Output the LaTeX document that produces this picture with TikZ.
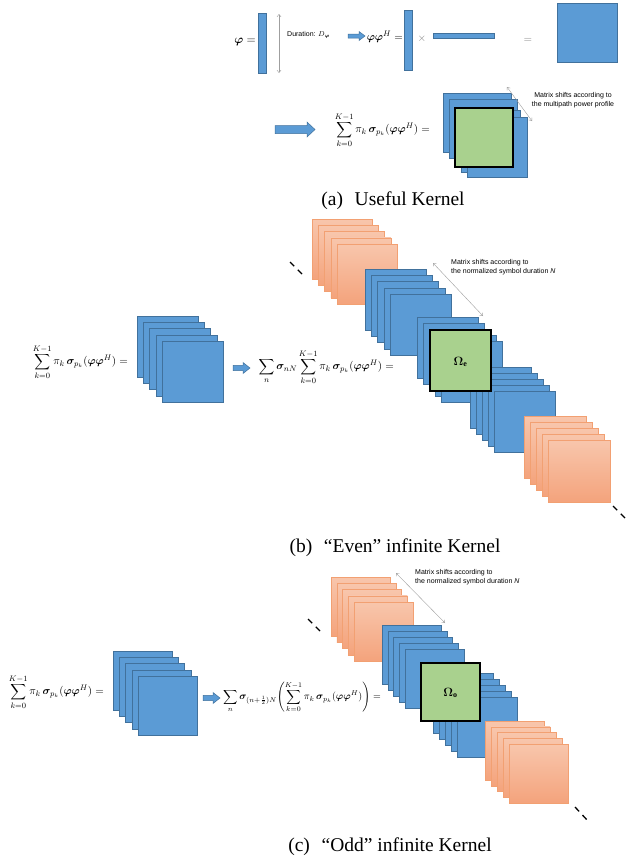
\documentclass[tikz,border=0pt]{standalone}
\usepackage{amsmath}
\usepackage{bm}
\usepackage{fontspec}
\setmainfont{Liberation Serif}
\newfontfamily\karial{Liberation Sans}
\usetikzlibrary{arrows.meta}
\definecolor{kblue}{HTML}{5B9BD5}
\definecolor{kblueb}{HTML}{41719C}
\definecolor{kor1}{HTML}{F8C6AC}
\definecolor{kor2}{HTML}{F4A37C}
\definecolor{korb}{HTML}{F2A072}
\definecolor{kgreen}{HTML}{A9D18E}
\newcommand\kfm{\fontsize{11}{13}\selectfont}
\newcommand\kfmc{\fontsize{10.1}{12}\selectfont}
\newcommand\kcap{\fontsize{19.5}{22}\selectfont}
\newcommand\ksmall{\karial\fontsize{7}{9.5}\selectfont}
\newcommand\kstack[7]{\foreach \i in {0,...,4}{\path[#1] ({#2+\i*#4},{#3+\i*#5}) rectangle ++(#6,#7);}}
\newcommand\kfat[6]{\path[bsq] (#1,{#3-#4}) -- ({#2-#6},{#3-#4}) -- ({#2-#6},{#3-#5}) -- (#2,#3) -- ({#2-#6},{#3+#5}) -- ({#2-#6},{#3+#4}) -- (#1,{#3+#4}) -- cycle;}
\begin{document}
\begin{tikzpicture}[x=1pt,y=-1pt,
  bsq/.style={fill=kblue,draw=kblueb,line width=0.5pt},
  osq/.style={top color=kor1,bottom color=kor2,draw=korb,line width=0.5pt},
  gsq/.style={fill=kgreen,draw=black,line width=1.8pt},
  darr/.style={draw=gray!75,line width=0.4pt,{Straight Barb[length=2.5pt,width=4pt]}-{Straight Barb[length=2.5pt,width=4pt]}},
  kdots/.style={draw=black,line width=1.3pt,dash pattern=on 6pt off 5pt},
  fm/.style={font=\kfm,inner sep=0pt},
  knote/.style={font=\ksmall,inner sep=0pt,align=left},
  kcapt/.style={font=\kcap,inner sep=0pt}]
\fill[white] (0,0) rectangle (625,865);
\useasboundingbox (0,0) rectangle (625,865);

% ---------------- (a) ----------------
\node[fm,anchor=east,font=\fontsize{12}{14}\selectfont] (phi) at (256,42) {$\bm{\varphi} =$};
\path[bsq] (258,13) rectangle (266,73);
\coordinate (du1) at (279,14);
\coordinate (du2) at (279,73);
\draw[darr] (du1) -- (du2);
\node[knote,anchor=west] (dur) at (287,35) {Duration: $D_{\bm{\varphi}}$};
\kfat{348}{365}{36}{2}{4.5}{6}
\node[fm,anchor=east] (phiphi) at (403,37) {$\bm{\varphi}\bm{\varphi}^{H} =$};
\path[bsq] (404,10) rectangle (412,70);
\node[fm,text=gray] (times) at (422,39) {$\times$};
\path[bsq] (433,33) rectangle (494,38);
\node[fm,text=gray] (eqa) at (528,40) {$=$};
\path[bsq] (557,3) rectangle (617,62);

\kfat{275}{315}{129.5}{4}{7.5}{8}
\node[fm,anchor=east] (suma) at (430,130) {$\displaystyle\sum_{k=0}^{K-1}\pi_k\,\bm{\sigma}_{p_k}(\bm{\varphi}\bm{\varphi}^{H}) =$};
\path[bsq] (443,93) rectangle (511,152);
\path[bsq] (449,99) rectangle (517,158);
\path[bsq] (461,110) rectangle (520,172);
\path[bsq] (467,117) rectangle (527,177);
\path[gsq] (455,108) rectangle (513,167);
\coordinate (ma1) at (507,87);
\coordinate (ma2) at (532,121);
\draw[darr] (ma1) -- (ma2);
\node[knote,align=center] (texta) at (573,100) {Matrix shifts according to\\the multipath power profile};
\node[kcapt] (capa) at (393,201) {(a)\hspace{0.35em} Useful Kernel};

% ---------------- (b) ----------------
\node[fm,anchor=east] (sumb) at (128,362) {$\displaystyle\sum_{k=0}^{K-1}\pi_k\,\bm{\sigma}_{p_k}(\bm{\varphi}\bm{\varphi}^{H}) =$};
\kstack{bsq}{137}{316}{6.25}{6.25}{61}{61}
\kfat{233}{250}{368}{2.7}{5.5}{7}
\node[fm,anchor=east] (sumbm) at (394,367) {$\displaystyle\sum_{n}\bm{\sigma}_{nN}\sum_{k=0}^{K-1}\pi_k\,\bm{\sigma}_{p_k}(\bm{\varphi}\bm{\varphi}^{H}) =$};
\kstack{osq}{312}{219}{6.25}{6.25}{60}{60}
\coordinate (db1) at (290,262);
\coordinate (db2) at (304,276);
\draw[kdots] (db1) -- (db2);
\kstack{bsq}{365}{269}{6.25}{6.25}{61}{61}
\kstack{bsq}{417}{317}{6}{6}{61}{61}
\kstack{bsq}{470}{367}{6}{6}{61}{61}
\path[gsq] (430,330) rectangle (491,391);
\node[fm,font=\fontsize{12}{14}\selectfont] (omegae) at (460.5,362) {$\bm{\Omega}_{\mathbf{e}}$};
\kstack{osq}{524}{416}{6}{6}{62}{62}
\coordinate (db3) at (613,506);
\coordinate (db4) at (627,520);
\draw[kdots] (db3) -- (db4);
\coordinate (mb1) at (433,263);
\coordinate (mb2) at (483,316);
\draw[darr] (mb1) -- (mb2);
\node[knote,anchor=north west] (textb) at (451,259) {Matrix shifts according to\\the normalized symbol duration \textit{N}};
\node[kcapt] (capb) at (395,548) {(b)\hspace{0.35em} “Even” infinite Kernel};

% ---------------- (c) ----------------
\node[fm,anchor=east] (sumc) at (104,692) {$\displaystyle\sum_{k=0}^{K-1}\pi_k\,\bm{\sigma}_{p_k}(\bm{\varphi}\bm{\varphi}^{H}) =$};
\kstack{bsq}{113}{651}{6.25}{6.25}{59}{59}
\kfat{203}{220}{698}{2.7}{5.5}{7}
\node[fm,anchor=east,font=\kfmc] (sumcm) at (381,697) {$\displaystyle\sum_{n}\bm{\sigma}_{(n+\frac{1}{2})N}\!\left(\sum_{k=0}^{K-1}\pi_k\,\bm{\sigma}_{p_k}(\bm{\varphi}\bm{\varphi}^{H})\right) =$};
\kstack{osq}{331}{577}{5.8}{6.25}{59}{59}
\coordinate (dc1) at (308,619);
\coordinate (dc2) at (322,633);
\draw[kdots] (dc1) -- (dc2);
\kstack{bsq}{382}{625}{5.8}{6}{59}{59}
\kstack{bsq}{433}{673}{6}{6}{60}{60}
\path[gsq] (421,663) rectangle (480,721);
\node[fm,font=\fontsize{12}{14}\selectfont] (omegao) at (450.5,693) {$\bm{\Omega}_{\mathbf{o}}$};
\kstack{osq}{485}{721}{6}{5.8}{59}{59}
\coordinate (dc3) at (575,807);
\coordinate (dc4) at (588,821);
\draw[kdots] (dc3) -- (dc4);
\coordinate (mc1) at (396,573);
\coordinate (mc2) at (445,623);
\draw[darr] (mc1) -- (mc2);
\node[knote,anchor=north west] (textc) at (415,569) {Matrix shifts according to\\the normalized symbol duration \textit{N}};
\node[kcapt] (capc) at (390,847) {(c)\hspace{0.35em} “Odd” infinite Kernel};
\end{tikzpicture}
\end{document}
